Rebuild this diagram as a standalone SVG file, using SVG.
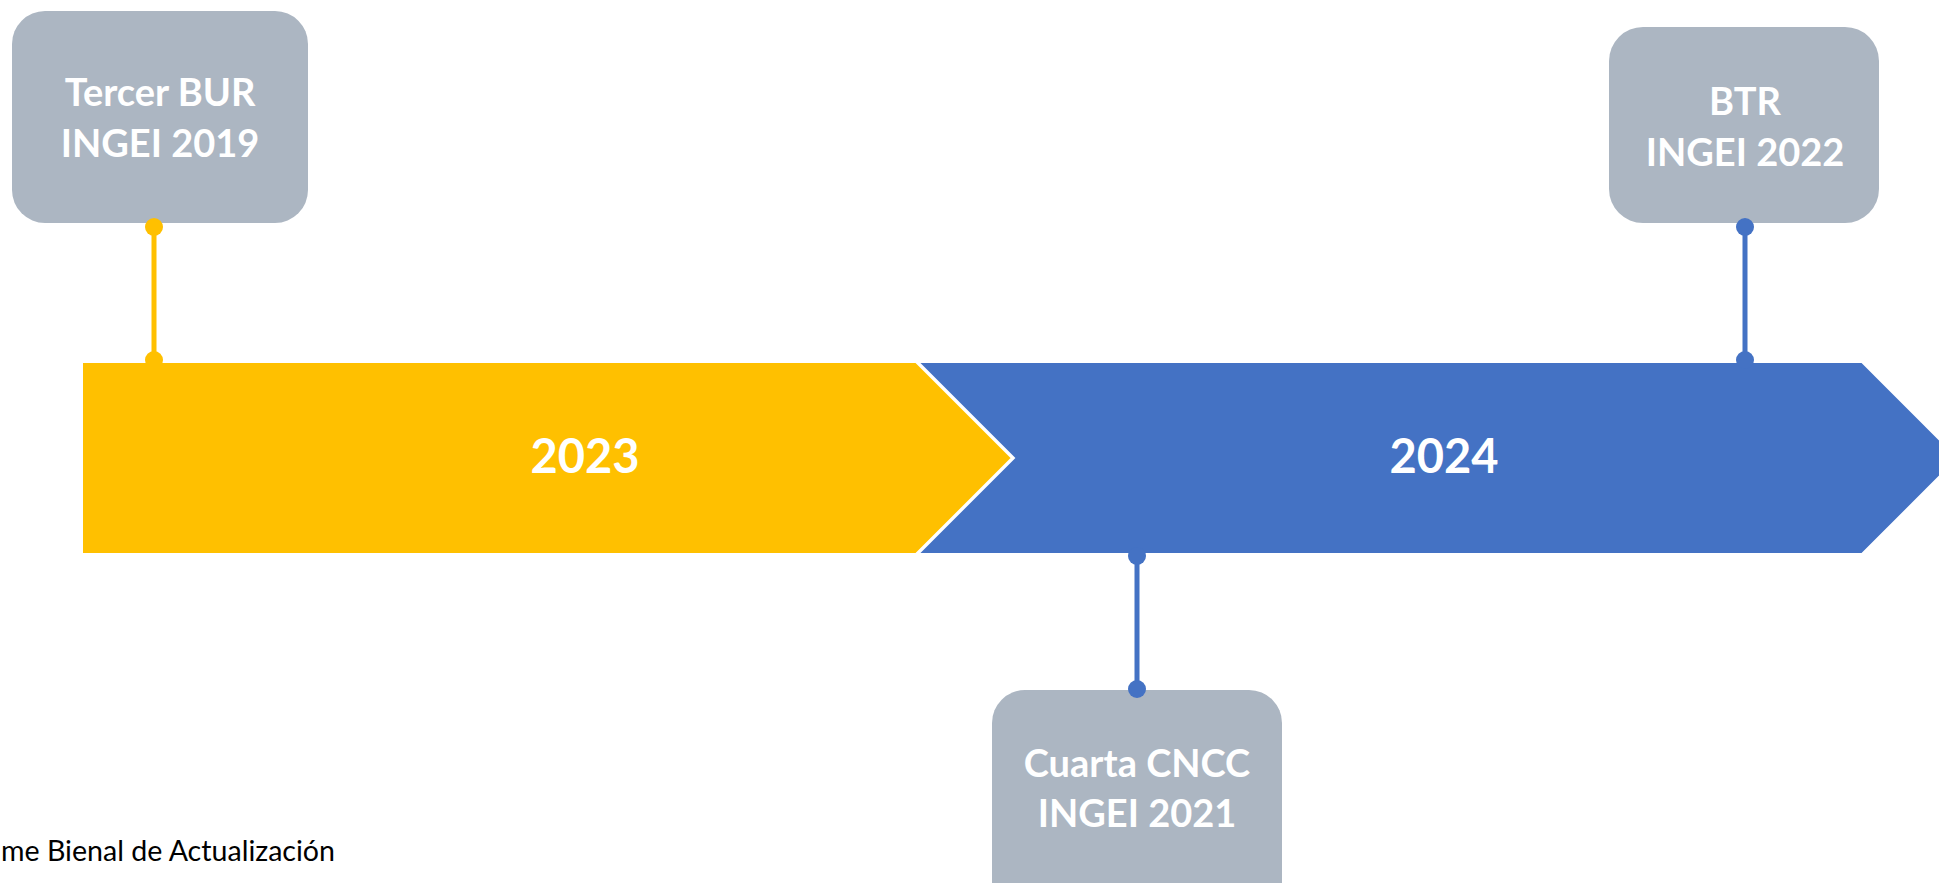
<svg xmlns="http://www.w3.org/2000/svg" width="1939" height="883" viewBox="0 0 1939 883">
<style>
.box{fill:#ACB6C2}
.lbl{font-family:Lato,"Open Sans","Liberation Sans",sans-serif;font-weight:bold;fill:#FFFFFF;text-anchor:middle}
.box-t{font-size:38px}
.year{font-size:47px}
.foot{font-family:Lato,"Liberation Sans",sans-serif;font-size:29px;fill:#000000}
.cy{stroke:#FFC000;stroke-width:5;fill:none}
.cb{stroke:#4472C4;stroke-width:5;fill:none}
.dy{fill:#FFC000}
.db{fill:#4472C4}
</style>
<rect width="1939" height="883" fill="#FFFFFF"/>
<g id="bar-2023">
<polygon points="82,362 916,362 1012,458 916,554 82,554" fill="#FFC000" stroke="#FFFFFF" stroke-width="2"/>
<text class="lbl year" x="585" y="473">2023</text>
</g>
<g id="bar-2024">
<polygon points="918,362 1862,362 1958,458 1862,554 918,554 1014,458" fill="#4472C4" stroke="#FFFFFF" stroke-width="2"/>
<text class="lbl year" x="1444" y="473">2024</text>
</g>
<g id="node-tercer-bur">
<rect class="box" x="12" y="11" width="296" height="212" rx="33" ry="33"/>
<text class="lbl box-t" x="160" y="106">Tercer BUR</text>
<text class="lbl box-t" x="160" y="157">INGEI 2019</text>
</g>
<g id="node-btr">
<rect class="box" x="1609" y="27" width="270" height="196" rx="34" ry="34"/>
<text class="lbl box-t" x="1745" y="115">BTR</text>
<text class="lbl box-t" x="1745" y="166">INGEI 2022</text>
</g>
<g id="node-cuarta-cncc">
<rect class="box" x="992" y="690" width="290" height="230" rx="33" ry="33"/>
<text class="lbl box-t" x="1137" y="777">Cuarta CNCC</text>
<text class="lbl box-t" x="1137" y="827">INGEI 2021</text>
</g>
<g id="connectors">
<line class="cy" x1="154" y1="227" x2="154" y2="360"/>
<circle class="dy" cx="154" cy="227" r="9"/>
<circle class="dy" cx="154" cy="360" r="9"/>
<line class="cb" x1="1745" y1="227" x2="1745" y2="360"/>
<circle class="db" cx="1745" cy="227" r="9"/>
<circle class="db" cx="1745" cy="360" r="9"/>
<line class="cb" x1="1137" y1="556" x2="1137" y2="689"/>
<circle class="db" cx="1137" cy="556" r="9"/>
<circle class="db" cx="1137" cy="689" r="9"/>
</g>
<text class="foot" x="1" y="861" textLength="334" lengthAdjust="spacingAndGlyphs">me Bienal de Actualización</text>
</svg>
